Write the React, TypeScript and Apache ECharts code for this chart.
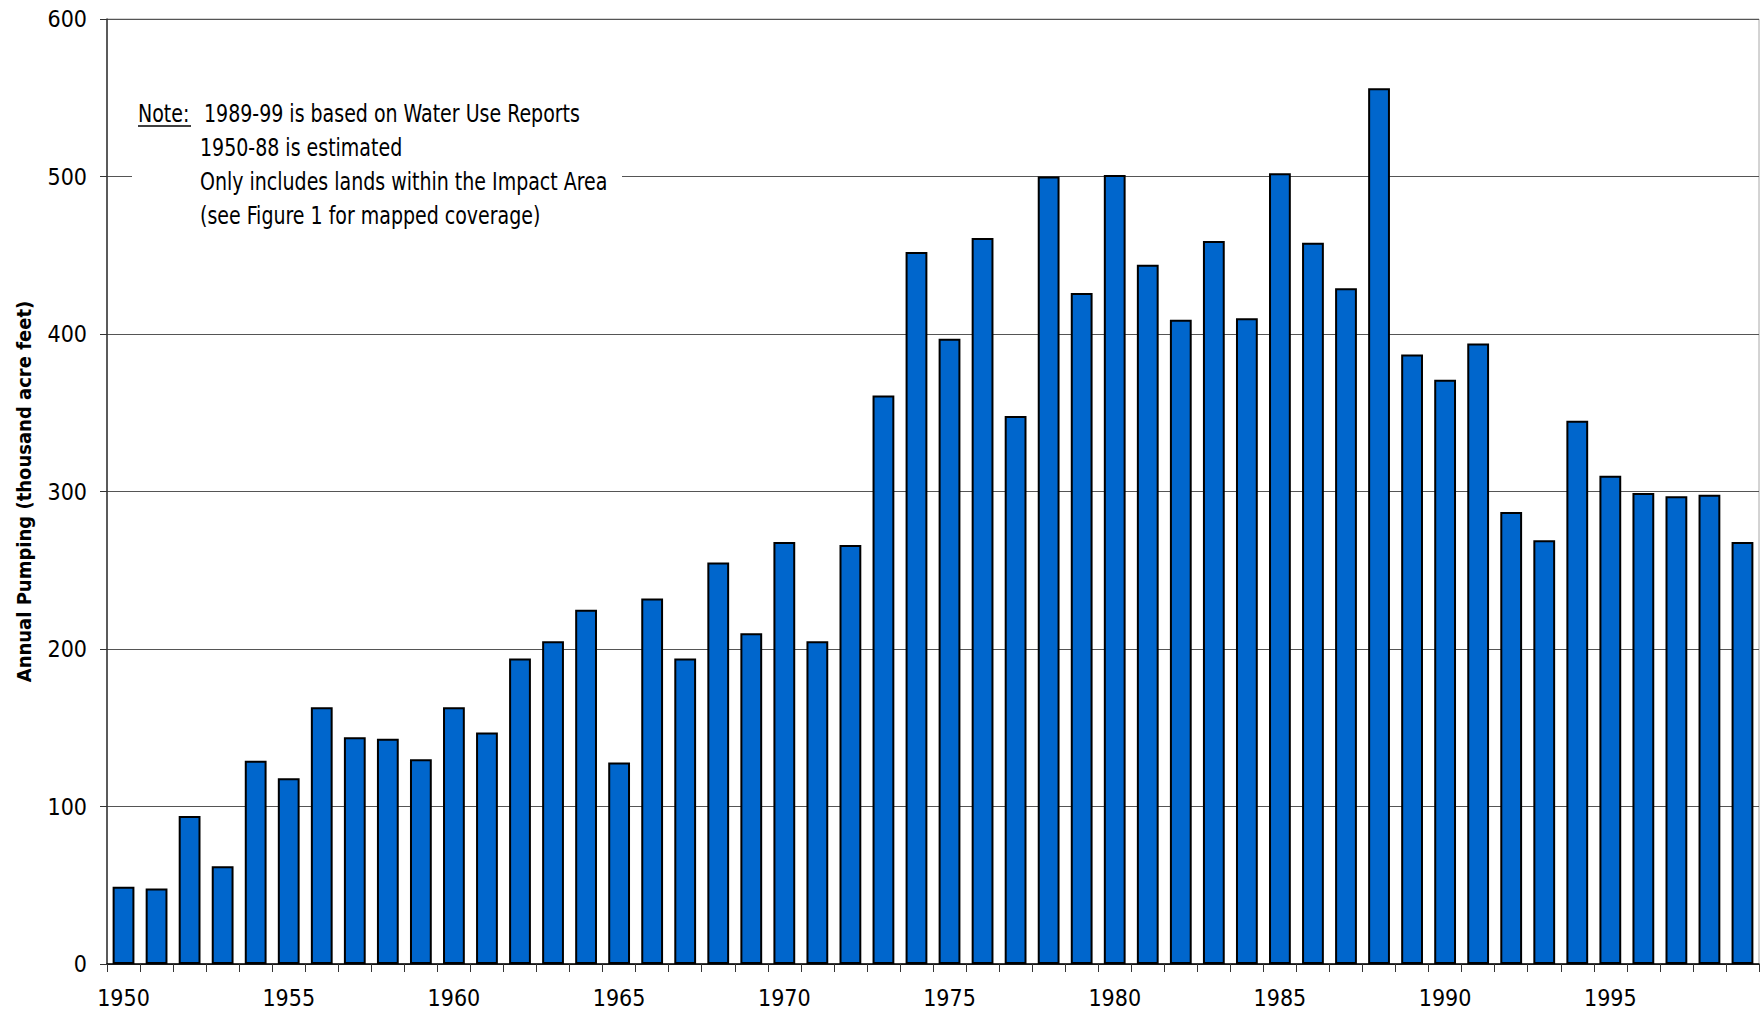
import React, { useEffect, useRef } from "react";
import * as echarts from "echarts";

const years: string[] = [
  "1950", "1951", "1952", "1953", "1954", "1955", "1956", "1957", "1958", "1959",
  "1960", "1961", "1962", "1963", "1964", "1965", "1966", "1967", "1968", "1969",
  "1970", "1971", "1972", "1973", "1974", "1975", "1976", "1977", "1978", "1979",
  "1980", "1981", "1982", "1983", "1984", "1985", "1986", "1987", "1988", "1989",
  "1990", "1991", "1992", "1993", "1994", "1995", "1996", "1997", "1998", "1999",
];

const pumping: number[] = [
  49, 48, 94, 62, 129, 118, 163, 144, 143, 130,
  163, 147, 194, 205, 225, 128, 232, 194, 255, 210,
  268, 205, 266, 361, 452, 397, 461, 348, 500, 426,
  501, 444, 409, 459, 410, 502, 458, 429, 556, 387,
  371, 394, 287, 269, 345, 310, 299, 297, 298, 268,
];

const yTitle = "Annual Pumping (thousand acre feet)";
const noteLabel = "Note:";
const noteLines: string[] = [
  "1989-99 is based on Water Use Reports",
  "1950-88 is estimated",
  "Only includes lands within the Impact Area",
  "(see Figure 1 for mapped coverage)",
];

const FONT = '"Liberation Sans Narrow", "Arial Narrow", "DejaVu Sans Condensed", "Liberation Sans", sans-serif';

export default function App() {
  const ref = useRef<HTMLDivElement>(null);

  useEffect(() => {
    if (!ref.current) return;
    const chart = echarts.init(ref.current, undefined, { renderer: "svg" });

    const noteX = 200;
    const noteY0 = 114;
    const lineGap = 33.7;
    const squeeze = 0.88;

    const graphics: any[] = [
      {
        type: "rect",
        z: 100,
        shape: { x: 132, y: 92, width: 490, height: 142 },
        style: { fill: "#ffffff" },
      },
      {
        type: "text",
        z: 101,
        x: 138,
        y: noteY0,
        scaleX: squeeze,
        style: {
          text: noteLabel,
          font: `24px ${FONT}`,
          fill: "#000",
          textVerticalAlign: "middle",
        },
      },
      {
        type: "line",
        z: 101,
        shape: { x1: 138, y1: 126, x2: 191, y2: 126 },
        style: { stroke: "#000", lineWidth: 1.5 },
      },
    ];
    noteLines.forEach((t, i) => {
      graphics.push({
        type: "text",
        z: 101,
        x: i === 0 ? noteX + 4 : noteX,
        y: noteY0 + i * lineGap,
        scaleX: squeeze,
        style: {
          text: t,
          font: `24px ${FONT}`,
          fill: "#000",
          textVerticalAlign: "middle",
        },
      });
    });

    chart.setOption({
      animation: false,
      backgroundColor: "#ffffff",
      grid: {
        left: 107,
        right: 1,
        top: 19,
        bottom: 53,
        show: true,
        borderColor: "#a8a8a8",
        borderWidth: 1,
      },
      xAxis: {
        type: "category",
        data: years,
        axisLine: { show: true, lineStyle: { color: "#000", width: 1.5 } },
        axisTick: {
          show: true,
          interval: 0,
          alignWithLabel: false,
          length: 8,
          lineStyle: { color: "#333", width: 1 },
        },
        axisLabel: {
          interval: 4,
          margin: 22,
          color: "#000",
          fontSize: 23,
          fontFamily: FONT,
        },
      },
      yAxis: {
        type: "value",
        min: 0,
        max: 600,
        interval: 100,
        name: yTitle,
        nameLocation: "middle",
        nameGap: 73,
        nameRotate: 90,
        nameTextStyle: {
          color: "#000",
          fontSize: 20,
          fontWeight: "bold",
          fontFamily: FONT,
        },
        axisLine: { show: true, lineStyle: { color: "#333", width: 1.5 } },
        axisTick: { show: true, length: 7, lineStyle: { color: "#333" } },
        axisLabel: {
          margin: 20,
          color: "#000",
          fontSize: 23,
          fontFamily: FONT,
        },
        splitLine: { show: true, lineStyle: { color: "#555", width: 1 } },
      },
      series: [
        {
          type: "bar",
          data: pumping,
          barCategoryGap: "34%",
          itemStyle: {
            color: "#0066CC",
            borderColor: "#000",
            borderWidth: 2,
          },
        },
      ],
      graphic: graphics,
    });

    return () => chart.dispose();
  }, []);

  return (
    <div
      ref={ref}
      style={{ position: "absolute", left: 0, top: 0, width: 1760, height: 1017, background: "#fff" }}
    />
  );
}
